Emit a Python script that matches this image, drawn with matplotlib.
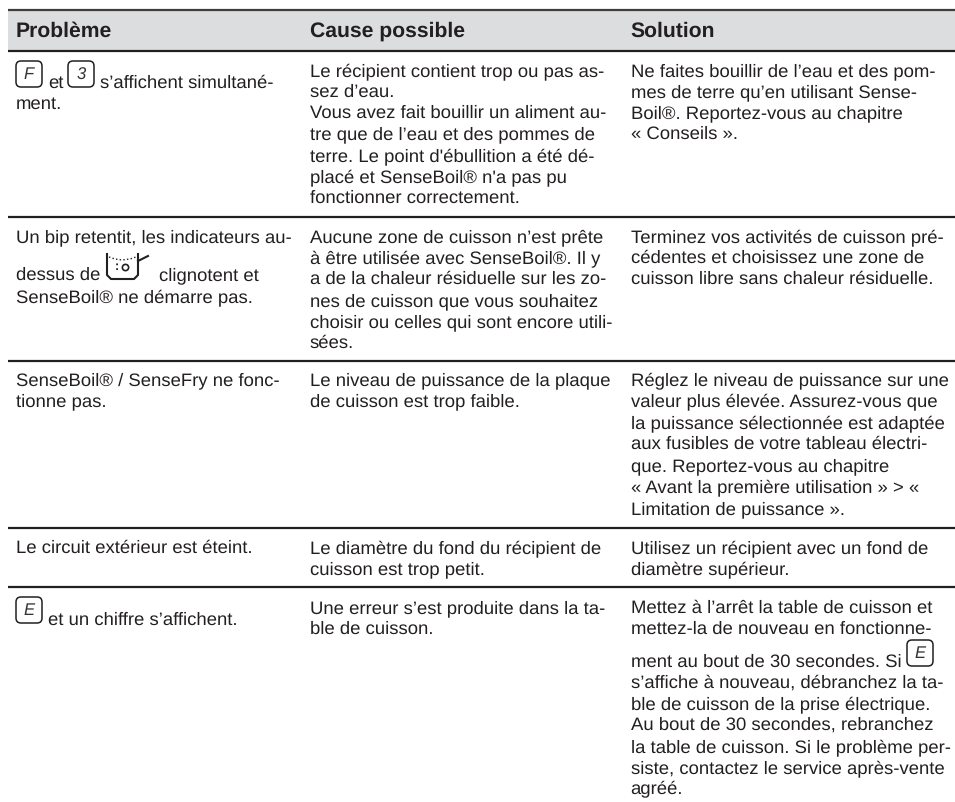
import matplotlib
matplotlib.use("Agg")
import matplotlib.pyplot as plt
from matplotlib.patches import FancyBboxPatch

W, H = 955, 803

headers = ["Problème", "Cause possible", "Solution"]
header_x = [15.5, 309.5, 630.5]
rules = [52, 217.5, 362, 529, 587.5]

# (x, baseline y, text)
col1 = [
    (48, 88, "et"), (100, 88, "s’affichent simultané-"), (15.5, 109, "ment."),
    (15.5, 242, "Un bip retentit, les indicateurs au-"),
    (15.5, 280, "dessus de"), (159, 280, "clignotent et"),
    (15.5, 302, "SenseBoil® ne démarre pas."),
    (15.5, 385, "SenseBoil® / SenseFry ne fonc-"), (15.5, 406, "tionne pas."),
    (15.5, 553, "Le circuit extérieur est éteint."),
    (48, 625, "et un chiffre s’affichent."),
]
col2 = [
    "Le récipient contient trop ou pas as-", "sez d’eau.",
    "Vous avez fait bouillir un aliment au-", "tre que de l’eau et des pommes de",
    "terre. Le point d'ébullition a été dé-", "placé et SenseBoil® n'a pas pu",
    "fonctionner correctement.",
    "Aucune zone de cuisson n’est prête", "à être utilisée avec SenseBoil®. Il y",
    "a de la chaleur résiduelle sur les zo-", "nes de cuisson que vous souhaitez",
    "choisir ou celles qui sont encore utili-", "sées.",
    "Le niveau de puissance de la plaque", "de cuisson est trop faible.",
    "Le diamètre du fond du récipient de", "cuisson est trop petit.",
    "Une erreur s’est produite dans la ta-", "ble de cuisson.",
]
col2_y = [76, 97, 118, 139, 161, 182, 203,
          242, 263, 284, 306, 327, 348,
          385, 406,
          553, 574,
          613, 634]
col3 = [
    "Ne faites bouillir de l’eau et des pom-", "mes de terre qu’en utilisant Sense-",
    "Boil®. Reportez-vous au chapitre", "« Conseils ».",
    "Terminez vos activités de cuisson pré-", "cédentes et choisissez une zone de",
    "cuisson libre sans chaleur résiduelle.",
    "Réglez le niveau de puissance sur une", "valeur plus élevée. Assurez-vous que",
    "la puissance sélectionnée est adaptée", "aux fusibles de votre tableau électri-",
    "que. Reportez-vous au chapitre", "« Avant la première utilisation » > «",
    "Limitation de puissance ».",
    "Utilisez un récipient avec un fond de", "diamètre supérieur.",
    "Mettez à l’arrêt la table de cuisson et", "mettez-la de nouveau en fonctionne-",
    "ment au bout de 30 secondes. Si", "s’affiche à nouveau, débranchez la ta-",
    "ble de cuisson de la prise électrique.", "Au bout de 30 secondes, rebranchez",
    "la table de cuisson. Si le problème per-", "siste, contactez le service après-vente",
    "agréé.",
]
col3_y = [76, 97, 118, 139,
          242, 263, 284,
          385, 406, 428, 449, 471, 492, 514,
          553, 574,
          613, 634, 667, 688, 709, 730, 752, 773, 793]
# key icons: left x, middle y, letter
keys = [(16, 75, "F"), (68, 75, "3"), (16, 611, "E"), (907, 654, "E")]

plt.rcParams['font.family'] = ['Liberation Sans', 'DejaVu Sans']
plt.rcParams['text.hinting'] = 'none'
fig = plt.figure(figsize=(W / 100, H / 100), dpi=100)
ax = fig.add_axes([0, 0, 1, 1])
ax.set_xlim(0, W)
ax.set_ylim(H, 0)
ax.axis("off")

dark = "#231f20"
fs = 13.3

ax.fill_between([8, W], 11, 52, color="#dcddde", lw=0)
ax.plot([8, W], [11, 11], color="#3f3c3d", lw=1.6, solid_capstyle="butt")
for y in rules:
    ax.plot([8, W], [y, y], color=dark, lw=1.6, solid_capstyle="butt")

for x, h in zip(header_x, headers):
    ax.text(x, 36.5, h, fontsize=15.2, fontweight="bold", color=dark, va="baseline")

for x, y, t in col1:
    ax.text(x, y, t, fontsize=fs, color=dark, va="baseline")
for t, y in zip(col2, col2_y):
    ax.text(309.5, y, t, fontsize=fs, color=dark, va="baseline")
for t, y in zip(col3, col3_y):
    ax.text(630.5, y, t, fontsize=fs, color=dark, va="baseline")

for x, y, k in keys:
    ax.add_patch(FancyBboxPatch((x, y - 13), 26, 26, boxstyle="round,pad=0,rounding_size=5",
                                fc="white", ec=dark, lw=1.1))
    ax.text(x + 13, y, k, fontsize=12, style="italic", color="#333333", ha="center", va="center")

# pot icon
ax.plot([107, 107, 111, 134, 138, 138], [255, 276, 280, 280, 276, 255], color=dark, lw=1.5)
ax.plot([109, 115, 122, 130, 136], [258, 260, 261, 260, 258], color=dark, lw=1.0, ls=":")
ax.plot([138, 148], [262, 257], color=dark, lw=1.5)
ax.text(117, 267, ":", fontsize=9, fontweight="bold", color=dark, ha="center", va="center")
ax.plot([125], [268], "o", ms=4.5, mfc="white", mec=dark, mew=1.2)

fig.savefig("out.png", dpi=100)
